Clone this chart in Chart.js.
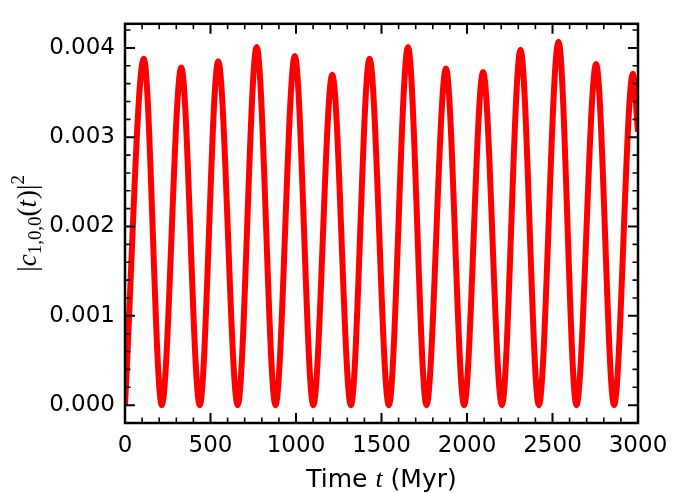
<!DOCTYPE html>
<html>
<head>
<meta charset="utf-8">
<script src="https://cdn.jsdelivr.net/npm/chart.js@4"></script>
<style>
  html, body { margin: 0; padding: 0; background: #fff; }
  #wrap { width: 678px; height: 493px; position: relative; }
</style>
</head>
<body>
<div id="wrap"><canvas id="myChart"></canvas></div>
<script>
// values
const troughTimes = [0, 215, 437, 659, 880, 1101, 1321, 1543, 1763, 1983, 2204, 2420, 2640, 2860];
const troughValues = [0, 0, 0, 0, 0, 0, 0, 0, 0, 0, 0, 0, 0, 0];
const peakTimes = [110, 329, 545, 770, 993, 1212, 1430, 1655, 1877, 2094, 2313, 2535, 2755, 2970];
const peakValues = [0.00388, 0.00378, 0.00385, 0.00401, 0.00391, 0.00370, 0.00388,
  0.00401, 0.00377, 0.00373, 0.00398, 0.00407, 0.00382, 0.00371];
const endTime = [3000];
const endValue = [0.00306];

const xTicks = [0, 500, 1000, 1500, 2000, 2500, 3000];
const yTicks = [0.000, 0.001, 0.002, 0.003, 0.004];

const points = [];
for (let i = 0; i < troughTimes.length; i++) {
  points.push({ x: troughTimes[i], y: troughValues[i] });
  points.push({ x: peakTimes[i], y: peakValues[i] });
}
points.push({ x: endTime[0], y: endValue[0] });

// inward ticks, frame and the math-style axis titles
const framePlugin = {
  id: 'frame',
  afterDraw (chart) {
    const ctx = chart.ctx;
    const a = chart.chartArea;
    const xs = chart.scales.x;
    const ys = chart.scales.y;
    ctx.save();
    ctx.strokeStyle = '#000';
    ctx.lineCap = 'butt';

    function tickX (v, len, w) {
      const px = xs.getPixelForValue(v);
      ctx.lineWidth = w;
      ctx.beginPath();
      ctx.moveTo(px, a.bottom); ctx.lineTo(px, a.bottom - len);
      ctx.moveTo(px, a.top); ctx.lineTo(px, a.top + len);
      ctx.stroke();
    }
    function tickY (v, len, w) {
      const py = ys.getPixelForValue(v);
      ctx.lineWidth = w;
      ctx.beginPath();
      ctx.moveTo(a.left, py); ctx.lineTo(a.left + len, py);
      ctx.moveTo(a.right, py); ctx.lineTo(a.right - len, py);
      ctx.stroke();
    }
    for (let v = 0; v <= 3000; v += 100) {
      if (v % 500 !== 0) tickX(v, 5.5, 1.6);
    }
    xTicks.forEach(v => tickX(v, 10, 2));
    for (let k = -1; k <= 21; k++) {
      const v = k * 0.0002;
      if (v < ys.min || v > ys.max) continue;
      if (k % 5 !== 0) tickY(v, 5.5, 1.6);
    }
    yTicks.forEach(v => tickY(v, 10, 2));

    ctx.lineWidth = 2.5;
    ctx.strokeRect(a.left, a.top, a.right - a.left, a.bottom - a.top);

    // x title: Time t (Myr)
    ctx.fillStyle = '#000';
    ctx.textBaseline = 'alphabetic';
    const sans = '25px "DejaVu Sans"';
    const serifI = 'italic 26px "Liberation Serif"';
    const parts = [[sans, 'Time '], [serifI, 't'], [sans, ' (Myr)']];
    let total = 0;
    parts.forEach(p => { ctx.font = p[0]; total += ctx.measureText(p[1]).width; });
    let cx = (a.left + a.right) / 2 - total / 2;
    parts.forEach(p => {
      ctx.font = p[0];
      ctx.fillText(p[1], cx, 487);
      cx += ctx.measureText(p[1]).width;
    });

    // y title: |c_{1,0,0}(t)|^2
    const main = 27;
    const rom = main + 'px "Liberation Serif"';
    const ita = 'italic ' + main + 'px "Liberation Serif"';
    const small = (main * 0.7).toFixed(1) + 'px "Liberation Serif"';
    const ylab = [
      [rom, '|', 0], [ita, 'c', 0], [small, '1,0,0', 5],
      [rom, '(', 0], [ita, 't', 0], [rom, ')', 0], [rom, '|', 0], [small, '2', -12]
    ];
    let w = 0;
    ylab.forEach(p => { ctx.font = p[0]; w += ctx.measureText(p[1]).width + (p[1] === 't' ? 1 : 0); });
    ctx.translate(36, (a.top + a.bottom) / 2);
    ctx.rotate(-Math.PI / 2);
    let px = -w / 2;
    ylab.forEach(p => {
      ctx.font = p[0];
      ctx.fillText(p[1], px, p[2]);
      px += ctx.measureText(p[1]).width + (p[1] === 't' ? 1 : 0);
    });
    ctx.restore();
  }
};

const tickFont = { family: 'DejaVu Sans', size: 23 };

new Chart(document.getElementById('myChart'), {
  type: 'line',
  data: {
    datasets: [{
      data: points,
      borderColor: '#ff0000',
      borderWidth: 6,
      pointRadius: 0,
      cubicInterpolationMode: 'monotone',
      clip: 0,
      fill: false
    }]
  },
  options: {
    responsive: true,
    maintainAspectRatio: false,
    animation: false,
    layout: { padding: { top: 10, right: 40, left: 0, bottom: 0 } },
    plugins: { legend: { display: false }, tooltip: { enabled: false } },
    scales: {
      x: {
        type: 'linear',
        min: 0,
        max: 3000,
        grid: { display: false, drawTicks: false },
        border: { display: false },
        afterBuildTicks: s => { s.ticks = xTicks.map(v => ({ value: v })); },
        afterFit: s => { s.height = 70; },
        ticks: {
          font: tickFont,
          color: '#000',
          padding: 9,
          maxRotation: 0,
          autoSkip: false,
          callback: v => String(v)
        }
      },
      y: {
        type: 'linear',
        min: -0.0002,
        max: 0.00427,
        grid: { display: false, drawTicks: false },
        border: { display: false },
        afterBuildTicks: s => { s.ticks = yTicks.map(v => ({ value: v })); },
        afterFit: s => { s.width = 125; },
        ticks: {
          font: tickFont,
          color: '#000',
          padding: 10,
          autoSkip: false,
          callback: v => Number(v).toFixed(3)
        }
      }
    }
  },
  plugins: [framePlugin]
});
</script>
</body>
</html>
